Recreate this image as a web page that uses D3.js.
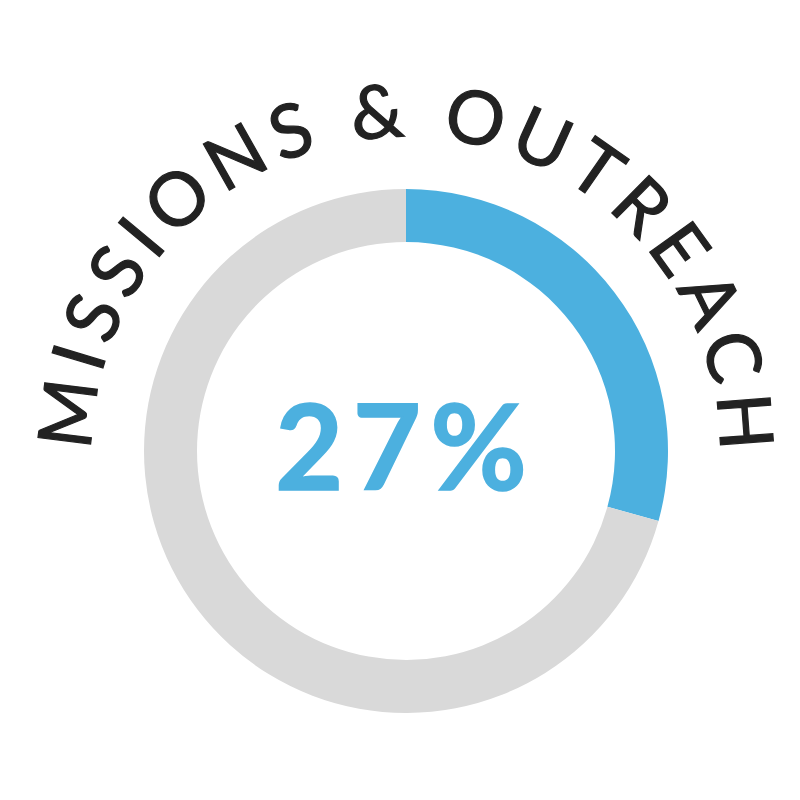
<!DOCTYPE html>
<html>
<head>
<meta charset="utf-8">
<script src="https://cdn.jsdelivr.net/npm/d3@7"></script>
<style>
  body { margin: 0; background: #fff; }
</style>
</head>
<body>
<svg id="chart" width="800" height="800"></svg>
<script>
// data
const segLabels = ["Missions & Outreach", "Rest"];
const segValues = [29.3, 70.7];
const segColors = ["#4cb0df", "#d9d9d9"];
const title = "MISSIONS & OUTREACH";
const pctLabel = "27%";

const width = 800, height = 800;
const cx = 406, cy = 451;
const outerR = 262, innerR = 209;
const textR = 314; // baseline of the curved title

const svg = d3.select("#chart");
const g = svg.append("g").attr("transform", `translate(${cx},${cy})`);

const pie = d3.pie().sort(null).value(d => d);
const arc = d3.arc().innerRadius(innerR).outerRadius(outerR);

g.selectAll("path.slice")
  .data(pie(segValues))
  .enter()
  .append("path")
  .attr("class", "slice")
  .attr("d", arc)
  .attr("fill", (d, i) => segColors[i]);

// full circle path starting at the bottom, going clockwise
svg.append("defs").append("path")
  .attr("id", "titlePath")
  .attr("d", `M ${cx},${cy + textR} A ${textR} ${textR} 0 1 1 ${cx},${cy - textR} A ${textR} ${textR} 0 1 1 ${cx},${cy + textR}`);

const circ = 2 * Math.PI * textR;
const titleText = svg.append("text")
  .attr("font-family", "Lato, 'Open Sans', sans-serif")
  .attr("font-size", 74)
  .attr("fill", "#222")
  .attr("stroke", "#222")
  .attr("stroke-width", 1.2);

const tp = titleText.append("textPath")
  .attr("href", "#titlePath")
  .attr("startOffset", circ / 4)
  .text(title);

// spread letters so the title runs from 9 o'clock to 3 o'clock
const natural = tp.node().getComputedTextLength();
const spacing = (circ / 2 - natural) / (title.length - 1);
titleText.attr("letter-spacing", spacing);

// centre percentage
svg.append("text")
  .attr("x", 401)
  .attr("y", 490)
  .attr("text-anchor", "middle")
  .attr("font-family", "Lato, sans-serif")
  .attr("font-weight", 700)
  .attr("font-size", 118)
  .attr("fill", segColors[0])
  .attr("stroke", segColors[0])
  .attr("stroke-width", 1.5)
  .attr("textLength", 252)
  .attr("lengthAdjust", "spacing")
  .text(pctLabel);
</script>
</body>
</html>
